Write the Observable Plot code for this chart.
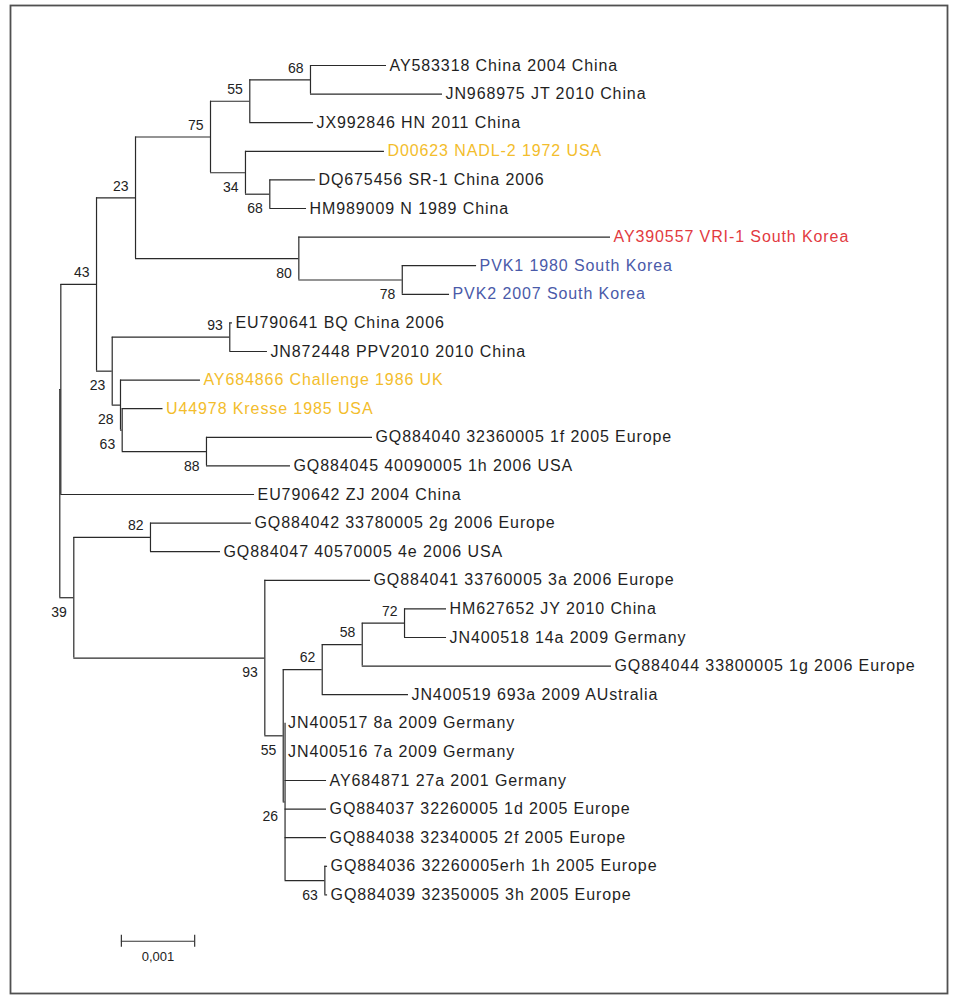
<!DOCTYPE html>
<html>
<head>
<meta charset="utf-8">
<script src="https://cdn.jsdelivr.net/npm/d3@7"></script>
<script src="https://cdn.jsdelivr.net/npm/@observablehq/plot@0.6"></script>
<style>
  html, body { margin: 0; padding: 0; background: #fff; overflow: hidden; }
  svg { display: block; }
</style>
</head>
<body>
<div id="chart"></div>
<script>
// ---- Data: leaves (top to bottom), their colour group ----
const leafNames = [
  "AY583318 China 2004 China",
  "JN968975 JT 2010 China",
  "JX992846 HN 2011 China",
  "D00623 NADL-2 1972 USA",
  "DQ675456 SR-1 China 2006",
  "HM989009 N 1989 China",
  "AY390557 VRI-1 South Korea",
  "PVK1 1980 South Korea",
  "PVK2 2007 South Korea",
  "EU790641 BQ China 2006",
  "JN872448 PPV2010 2010 China",
  "AY684866 Challenge 1986 UK",
  "U44978 Kresse 1985 USA",
  "GQ884040 32360005 1f 2005 Europe",
  "GQ884045 40090005 1h 2006 USA",
  "EU790642 ZJ 2004 China",
  "GQ884042 33780005 2g 2006 Europe",
  "GQ884047 40570005 4e 2006 USA",
  "GQ884041 33760005 3a 2006 Europe",
  "HM627652 JY 2010 China",
  "JN400518 14a 2009 Germany",
  "GQ884044 33800005 1g 2006 Europe",
  "JN400519 693a 2009 AUstralia",
  "JN400517 8a 2009 Germany",
  "JN400516 7a 2009 Germany",
  "AY684871 27a 2001 Germany",
  "GQ884037 32260005 1d 2005 Europe",
  "GQ884038 32340005 2f 2005 Europe",
  "GQ884036 32260005erh 1h 2005 Europe",
  "GQ884039 32350005 3h 2005 Europe"
];
const leafGroups = [
  "other","other","other","reference","other","other","vri","pvk","pvk",
  "other","other","reference","reference","other","other","other","other","other",
  "other","other","other","other","other","other","other","other","other","other","other","other"
];

// ---- Data: tree edges (child, parent, branch length in substitutions/site) ----
const edgeChild = [
  "K","P39",
  "A43","EU790642",
  "B23","J23",
  "C75","H80",
  "D55","F34",
  "E68","JX992846",
  "AY583318","JN968975",
  "D00623","G68",
  "DQ675456","HM989009",
  "AY390557","I78",
  "PVK1","PVK2",
  "L93","M28",
  "EU790641","JN872448",
  "AY684866","N63",
  "U44978","O88",
  "GQ884040","GQ884045",
  "Q82","S93",
  "GQ884042","GQ884047",
  "GQ884041","T55",
  "U62","X26",
  "V58","JN400519",
  "W72","GQ884044",
  "HM627652","JN400518",
  "JN400517","JN400516","AY684871","GQ884037","GQ884038","Y63",
  "GQ884036","GQ884039"
];
const edgeParent = [
  "R","R",
  "K","K",
  "A43","A43",
  "B23","B23",
  "C75","C75",
  "D55","D55",
  "E68","E68",
  "F34","F34",
  "G68","G68",
  "H80","H80",
  "I78","I78",
  "J23","J23",
  "L93","L93",
  "M28","M28",
  "N63","N63",
  "O88","O88",
  "P39","P39",
  "Q82","Q82",
  "S93","S93",
  "T55","T55",
  "U62","U62",
  "V58","V58",
  "W72","W72",
  "X26","X26","X26","X26","X26","X26",
  "Y63","Y63"
];
const edgeLength = [
  0.000014, 0.000191,
  0.000487, 0.002643,
  0.000532, 0.000214,
  0.001023, 0.002228,
  0.000536, 0.000477,
  0.000828, 0.000869,
  0.001037, 0.001801,
  0.001896, 0.000332,
  0.000623, 0.000501,
  0.004252, 0.001411,
  0.001014, 0.000645,
  0.001604, 0.000113,
  0.000037, 0.000514,
  0.001091, 0.000023,
  0.000557, 0.001150,
  0.002265, 0.001146,
  0.001046, 0.002606,
  0.001378, 0.000955,
  0.001442, 0.000251,
  0.000532, 0.000025,
  0.000546, 0.001177,
  0.000577, 0.003401,
  0.000573, 0.000573,
  0, 0, 0.000566, 0.000566, 0.000566, 0.000543,
  0.000037, 0.000037
];

// ---- Data: bootstrap support values ----
const bootstrapNodes  = ["A43","B23","C75","D55","E68","F34","G68","H80","I78","J23","L93","M28","N63","O88","P39","Q82","S93","T55","U62","V58","W72","X26","Y63"];
const bootstrapValues = [ 43,   23,   75,   55,   68,   34,   68,   80,   78,   23,   93,   28,   63,   88,   39,   82,   93,   55,   62,   58,   72,   26,   63 ];

// ---- Scale bar ----
const scaleBarLength = 0.001;

// ---- Build layout ----
const leafIds = leafNames.map(n => n.split(" ")[0]);
const children = new Map(), parentOf = new Map(), lenOf = new Map();
edgeChild.forEach((c, i) => {
  const p = edgeParent[i];
  if (!children.has(p)) children.set(p, []);
  children.get(p).push(c);
  parentOf.set(c, p);
  lenOf.set(c, edgeLength[i]);
});
const root = edgeParent.find(p => !parentOf.has(p));
const pos = new Map();
function layout(id, x) {
  const kids = children.get(id);
  let y;
  if (!kids) y = leafIds.indexOf(id);
  else {
    const ys = kids.map(k => layout(k, x + lenOf.get(k)));
    y = (ys[0] + ys[ys.length - 1]) / 2;
  }
  pos.set(id, {x, y});
  return y;
}
layout(root, 0);

const hsegs = edgeChild.map(c => ({x1: pos.get(parentOf.get(c)).x, x2: pos.get(c).x, y: pos.get(c).y}));
const vsegs = [...children.entries()].map(([id, kids]) => ({
  x: pos.get(id).x, y1: pos.get(kids[0]).y, y2: pos.get(kids[kids.length - 1]).y
}));
const colorOf = {other: "#1f1f1f", reference: "#f3bd2c", vri: "#e23a3f", pvk: "#4a5aa9"};
const leaves = leafNames.map((name, i) => ({
  name, x: pos.get(leafIds[i]).x, y: pos.get(leafIds[i]).y, fill: colorOf[leafGroups[i]]
}));
const boots = bootstrapNodes.map((n, i) => ({
  text: String(bootstrapValues[i]), x: pos.get(n).x, y: pos.get(n).y,
  upper: children.get(parentOf.get(n))[0] === n
}));

const fmt = d3.formatLocale({decimal: ",", thousands: ".", grouping: [3], currency: ["", ""]}).format(".3f");
const scaleBarX = 0.00084;   // placement of the scale bar (in tree units)
const scaleBarY = 30.62;     // placement (in leaf rows)

const lineColor = "#2a2a2a";
const plot = Plot.plot({
  width: 954,
  height: 996,
  marginLeft: 10, marginRight: 7, marginTop: 5, marginBottom: 3,
  x: {domain: [0, 0.001], range: [59.3, 132.6], axis: null},
  y: {domain: [0, 29], range: [65, 894.4], axis: null},
  color: {type: "identity"},
  style: {fontFamily: "'Liberation Sans', Arial, sans-serif", background: "#fff"},
  marks: [
    Plot.frame({stroke: "#505050", strokeWidth: 1.8}),
    Plot.ruleY(hsegs, {x1: "x1", x2: "x2", y: "y", stroke: lineColor, strokeWidth: 1.2}),
    Plot.ruleX(vsegs, {x: "x", y1: "y1", y2: "y2", stroke: lineColor, strokeWidth: 1.2}),
    Plot.text(leaves, {x: "x", y: "y", text: "name", fill: "fill", textAnchor: "start", dx: 3, fontSize: 16}),
    Plot.text(boots.filter(d => d.upper), {x: "x", y: "y", text: "text", textAnchor: "end", dx: -7, dy: -11.7, fontSize: 14, fill: "#222"}),
    Plot.text(boots.filter(d => !d.upper), {x: "x", y: "y", text: "text", textAnchor: "end", dx: -7, dy: 14.7, fontSize: 14, fill: "#222"}),
    Plot.ruleY([scaleBarY], {x1: scaleBarX, x2: scaleBarX + scaleBarLength, y: d => d, stroke: "#333", strokeWidth: 1.2}),
    Plot.ruleX([scaleBarX, scaleBarX + scaleBarLength], {x: d => d, y1: scaleBarY - 0.21, y2: scaleBarY + 0.21, stroke: "#333", strokeWidth: 1.2}),
    Plot.text([fmt(scaleBarLength)], {x: scaleBarX + scaleBarLength / 2, y: scaleBarY, text: d => d, dy: 16, fontSize: 13, fill: "#222"})
  ]
});
const leafSet = new Set(leafNames);
d3.select(plot).selectAll("text")
  .filter(function () { return leafSet.has(this.textContent); })
  .style("letter-spacing", "0.9px");
document.getElementById("chart").appendChild(plot);
</script>
</body>
</html>
